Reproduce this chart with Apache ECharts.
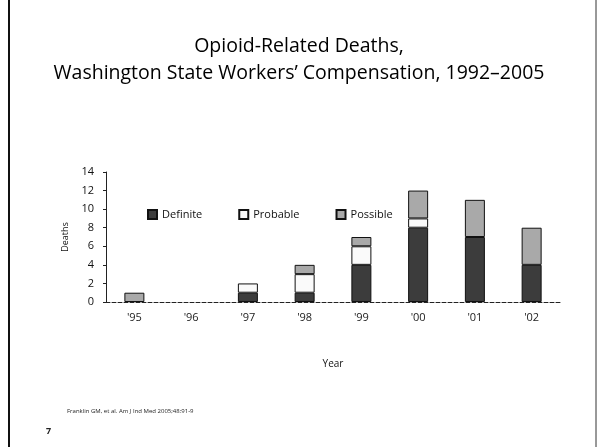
<!DOCTYPE html>
<html>
<head>
<meta charset="utf-8">
<script src="https://cdn.jsdelivr.net/npm/echarts@6/dist/echarts.min.js"></script>
<style>
  html, body { margin: 0; padding: 0; background: #fff; }
  #chartsId { width: 598px; height: 447px; }
</style>
</head>
<body>
<div id="chartsId"></div>
<script>
const years = ["'95", "'96", "'97", "'98", "'99", "'00", "'01", "'02"];
const definite = [0, 0, 1, 1, 4, 8, 7, 4];
const probable = [0, 0, 1, 2, 2, 1, 0, 0];
const possible = [1, 0, 0, 1, 1, 3, 4, 4];
const yTicks = [0, 2, 4, 6, 8, 10, 12, 14];

const font = 'Open Sans';
// zero segments would draw a border line, so leave them empty
const noZero = arr => arr.map(v => (v === 0 ? null : v));

const option = {
  animation: false,
  backgroundColor: '#fff',
  title: {
    text: 'Opioid-Related Deaths,\nWashington State Workers\u2019 Compensation, 1992\u20132005',
    left: 'center',
    top: 28,
    textStyle: {
      fontFamily: font,
      fontSize: 19.5,
      fontWeight: 'normal',
      color: '#000',
      lineHeight: 27
    }
  },
  legend: {
    top: 204,
    left: 142,
    itemGap: 36,
    itemWidth: 9,
    itemHeight: 9,
    icon: 'rect',
    textStyle: { fontFamily: font, fontSize: 11, color: '#111' },
    data: ['Definite', 'Probable', 'Possible']
  },
  grid: { left: 106, right: 38, top: 172, height: 130 },
  xAxis: {
    type: 'category',
    data: years,
    name: 'Year',
    nameLocation: 'middle',
    nameGap: 57,
    nameTextStyle: { fontFamily: font, fontSize: 10, color: '#111' },
    axisLine: { lineStyle: { color: '#222', type: 'dashed', width: 1 } },
    axisTick: { show: false },
    axisLabel: { fontFamily: font, fontSize: 11, color: '#222', margin: 10 }
  },
  yAxis: {
    type: 'value',
    min: 0,
    max: 14,
    interval: 2,
    name: 'Deaths',
    nameLocation: 'middle',
    nameGap: 36,
    nameTextStyle: { fontFamily: font, fontSize: 9, color: '#111' },
    axisLine: { show: true, lineStyle: { color: '#222' } },
    axisTick: { show: true, length: 3, lineStyle: { color: '#222' } },
    splitLine: { show: false },
    axisLabel: {
      fontFamily: font, fontSize: 11, color: '#111', margin: 12,
      formatter: v => (yTicks.includes(v) ? String(v) : '')
    }
  },
  series: [
    {
      name: 'Definite', type: 'bar', stack: 'd', barWidth: 20,
      data: noZero(definite),
      itemStyle: { color: '#3c3c3c', borderColor: '#111', borderWidth: 1 }
    },
    {
      name: 'Probable', type: 'bar', stack: 'd', barWidth: 20,
      data: noZero(probable),
      itemStyle: { color: '#fafafa', borderColor: '#111', borderWidth: 1 }
    },
    {
      name: 'Possible', type: 'bar', stack: 'd', barWidth: 20,
      data: noZero(possible),
      itemStyle: { color: '#a9a9a9', borderColor: '#111', borderWidth: 1 }
    }
  ],
  graphic: [
    { type: 'line', shape: { x1: 9, y1: 0, x2: 9, y2: 447 }, style: { stroke: '#111', lineWidth: 2 } },
    { type: 'line', shape: { x1: 596, y1: 0, x2: 596, y2: 447 }, style: { stroke: '#333', lineWidth: 1 } },
    {
      type: 'text', left: 67, top: 408,
      style: { text: 'Franklin GM, et al. Am J Ind Med 2005;48:91-9', font: '6px "Open Sans"', fill: '#222' }
    },
    {
      type: 'text', left: 46, top: 427,
      style: { text: '7', font: 'bold 9px "Open Sans"', fill: '#222' }
    }
  ]
};

const chartDom = document.getElementById('chartsId');
const myChart = echarts.init(chartDom);
option && myChart.setOption(option);
</script>
</body>
</html>
